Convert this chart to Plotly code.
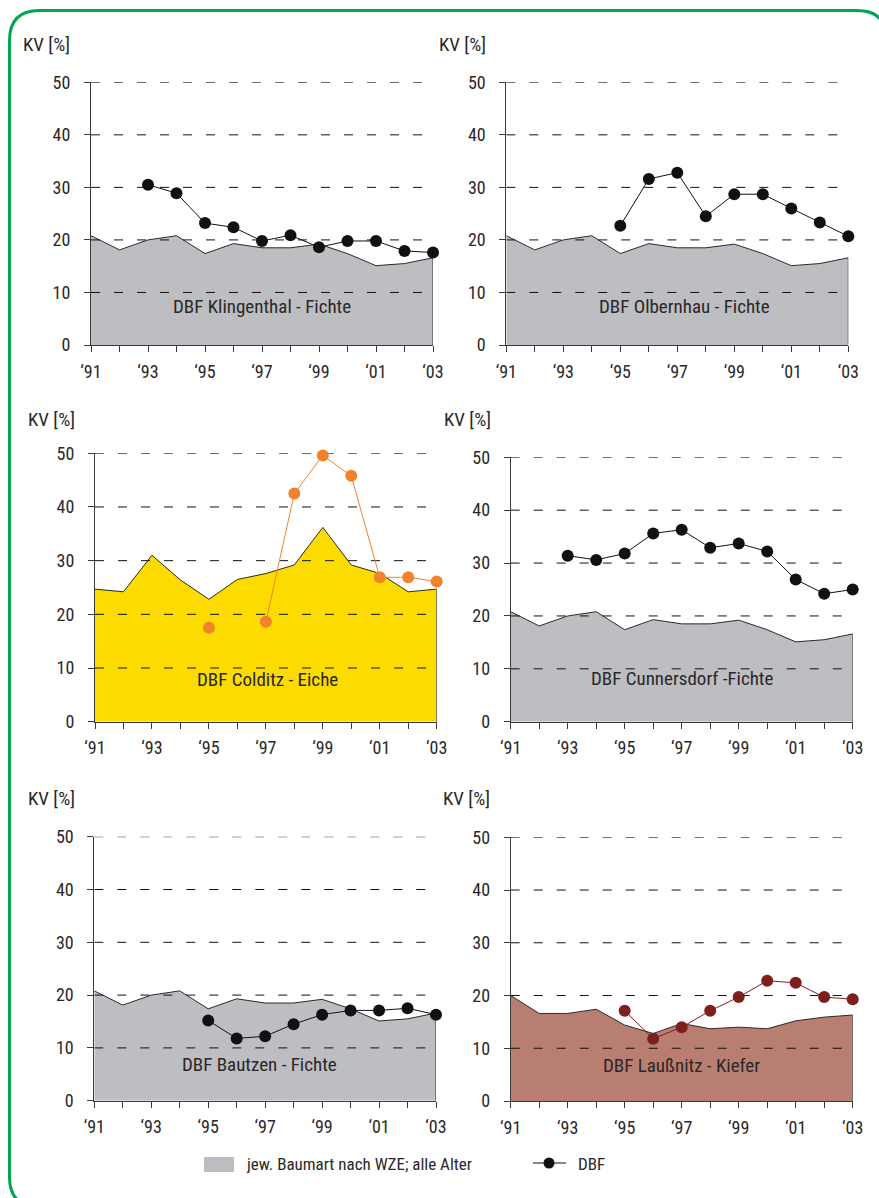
import plotly.graph_objects as go

# ---------------- data ----------------
years = list(range(1991, 2004))
year_labels = ["‘91", "", "‘93", "", "‘95", "", "‘97", "", "‘99", "", "‘01", "", "‘03"]
y_ticks = [0, 10, 20, 30, 40, 50]
grid_levels = [10, 20, 30, 40, 50]

# WZE reference (jew. Baumart nach WZE; alle Alter)
wze_fichte = [20.8, 18.1, 20.0, 20.8, 17.4, 19.3, 18.5, 18.5, 19.2, 17.4, 15.1, 15.5, 16.6]
wze_eiche = [24.7, 24.2, 31.0, 26.4, 22.8, 26.5, 27.6, 29.2, 36.2, 29.2, 27.6, 24.2, 24.7]
wze_kiefer = [20.0, 16.6, 16.6, 17.4, 14.4, 12.8, 14.7, 13.7, 14.0, 13.7, 15.2, 15.9, 16.3]

# DBF series
dbf_klingenthal = [None, None, 30.5, 28.9, 23.2, 22.4, 19.8, 20.9, 18.6, 19.8, 19.8, 17.9, 17.6]
dbf_olbernhau = [None, None, None, None, 22.7, 31.6, 32.8, 24.5, 28.7, 28.7, 26.0, 23.3, 20.7]
dbf_colditz = [None, None, None, None, 17.5, None, 18.6, 42.5, 49.6, 45.8, 26.9, 26.9, 26.1]
dbf_cunnersdorf = [None, None, 31.4, 30.6, 31.8, 35.6, 36.3, 32.9, 33.7, 32.2, 26.9, 24.2, 25.0]
dbf_bautzen = [None, None, None, None, 15.2, 11.8, 12.2, 14.5, 16.3, 17.1, 17.1, 17.5, 16.3]
dbf_laussnitz = [None, None, None, None, 17.1, 11.8, 14.0, 17.1, 19.7, 22.8, 22.4, 19.7, 19.3]

panel_titles = ["DBF Klingenthal - Fichte", "DBF Olbernhau - Fichte", "DBF Colditz - Eiche",
                "DBF Cunnersdorf -Fichte", "DBF Bautzen - Fichte", "DBF Laußnitz - Kiefer"]
legend_labels = ["jew. Baumart nach WZE; alle Alter", "DBF"]
y_title = "KV [%]"

# ---------------- styling / layout ----------------
W, H = 879, 1198
FONT = "Roboto Condensed, Liberation Sans Narrow, sans-serif"
TXT = "#2b2728"
AX = "#3a3a3a"
GRAY = "#bdbec2"
YELLOW = "#fcdc00"
ORANGE = "#f2822c"
BROWN_AREA = "#b97e72"
BROWN_DBF = "#7d1f1c"
GREEN = "#00a651"


def pxx(x):
    return x / W


def pxy(y):
    return 1 - y / H


# (area, area color, dbf, dbf color, x px range, y px range (top=50, bottom=0), label pos, KV label pos)
panels = [
    (wze_fichte, GRAY, dbf_klingenthal, "#111111", (91, 433), (82.3, 345), (1997.0, 7.4), (46, 45)),
    (wze_fichte, GRAY, dbf_olbernhau, "#111111", (506.3, 848.3), (82.3, 345), (1997.25, 7.4), (462, 45)),
    (wze_eiche, YELLOW, dbf_colditz, ORANGE, (95, 436.7), (453.3, 721.7), (1997.05, 7.9), (51, 420)),
    (wze_fichte, GRAY, dbf_cunnersdorf, "#111111", (510.7, 852.7), (457.3, 721.7), (1997.0, 8.1), (467, 420)),
    (wze_fichte, GRAY, dbf_bautzen, "#111111", (94.3, 436), (836.7, 1100.7), (1996.8, 6.8), (51, 798)),
    (wze_kiefer, BROWN_AREA, dbf_laussnitz, BROWN_DBF, (510.7, 852.7), (837.3, 1101), (1997.0, 6.8), (466, 798)),
]

fig = go.Figure()
layout_axes = {}
annotations = []
shapes = []

for i, (area, acol, dbf, dcol, xr, yr, lab, kv) in enumerate(panels):
    n = i + 1
    xa = "x" if n == 1 else f"x{n}"
    ya = "y" if n == 1 else f"y{n}"
    xkey = "xaxis" if n == 1 else f"xaxis{n}"
    ykey = "yaxis" if n == 1 else f"yaxis{n}"

    # area (with closing right edge)
    fig.add_trace(go.Scatter(
        x=years + [years[-1]], y=area + [0], mode="lines", fill="tozeroy",
        fillcolor=acol, line=dict(color="#2a2a2a", width=1),
        xaxis=xa, yaxis=ya, showlegend=False, hoverinfo="skip"))

    # dashed grid lines drawn above the area
    for g in grid_levels:
        fig.add_trace(go.Scatter(
            x=[years[0], years[-1]], y=[g, g], mode="lines",
            line=dict(color="#111111", width=1, dash="9px,14px"),
            xaxis=xa, yaxis=ya, showlegend=False, hoverinfo="skip"))

    # DBF series
    fig.add_trace(go.Scatter(
        x=years, y=dbf, mode="lines+markers", connectgaps=False,
        line=dict(color=dcol, width=1),
        marker=dict(color=dcol, size=12),
        xaxis=xa, yaxis=ya, showlegend=False, cliponaxis=False))

    layout_axes[xkey] = dict(
        domain=[pxx(xr[0]), pxx(xr[1])], range=[years[0], years[-1]], anchor=ya,
        tickmode="array", tickvals=years, ticktext=year_labels, automargin=False,
        ticks="outside", ticklen=6, tickcolor=AX, showline=True, linecolor=AX, linewidth=1,
        showgrid=False, zeroline=False, fixedrange=True, ticklabelstandoff=4,
        tickfont=dict(family=FONT, size=18, color=TXT))
    layout_axes[ykey] = dict(
        domain=[pxy(yr[1]), pxy(yr[0])], range=[0, 50], anchor=xa, automargin=False,
        tickmode="array", tickvals=y_ticks,
        ticks="outside", ticklen=6, tickcolor=AX, showline=True, linecolor=AX, linewidth=1,
        showgrid=False, zeroline=False, fixedrange=True, ticklabelstandoff=10,
        tickfont=dict(family=FONT, size=18, color=TXT))

    annotations.append(dict(
        x=lab[0], y=lab[1], xref=xa, yref=ya, text=panel_titles[i], showarrow=False,
        font=dict(family=FONT, size=19, color=TXT), xanchor="center", yanchor="middle"))
    annotations.append(dict(
        x=pxx(kv[0]), y=pxy(kv[1]), xref="paper", yref="paper", text=y_title, showarrow=False,
        font=dict(family=FONT, size=19, color=TXT), xanchor="center", yanchor="middle"))

# legend (drawn manually)
shapes.append(dict(type="rect", xref="paper", yref="paper",
                   x0=pxx(204), x1=pxx(234), y0=pxy(1172), y1=pxy(1157),
                   fillcolor=GRAY, line=dict(width=0)))
annotations.append(dict(x=pxx(244), y=pxy(1164), xref="paper", yref="paper", text=legend_labels[0],
                        showarrow=False, xanchor="left", yanchor="middle",
                        font=dict(family=FONT, size=17, color=TXT)))
shapes.append(dict(type="line", xref="paper", yref="paper",
                   x0=pxx(533), x1=pxx(566), y0=pxy(1163), y1=pxy(1163),
                   line=dict(color="#111111", width=1)))
shapes.append(dict(type="circle", xref="paper", yref="paper",
                   x0=pxx(543.5), x1=pxx(554.5), y0=pxy(1168.5), y1=pxy(1157.5),
                   fillcolor="#111111", line=dict(color="#111111", width=0)))
annotations.append(dict(x=pxx(576), y=pxy(1164), xref="paper", yref="paper", text=legend_labels[1],
                        showarrow=False, xanchor="left", yanchor="middle",
                        font=dict(family=FONT, size=17, color=TXT)))

# green rounded frame
x0, y0, x1, y1, r = 9.5, 10.5, 887, 1207, 30
path = (f"M {pxx(x0 + r)},{pxy(y0)} L {pxx(x1 - r)},{pxy(y0)} "
        f"Q {pxx(x1)},{pxy(y0)} {pxx(x1)},{pxy(y0 + r)} "
        f"L {pxx(x1)},{pxy(y1 - r)} Q {pxx(x1)},{pxy(y1)} {pxx(x1 - r)},{pxy(y1)} "
        f"L {pxx(x0 + r)},{pxy(y1)} Q {pxx(x0)},{pxy(y1)} {pxx(x0)},{pxy(y1 - r)} "
        f"L {pxx(x0)},{pxy(y0 + r)} Q {pxx(x0)},{pxy(y0)} {pxx(x0 + r)},{pxy(y0)} Z")
shapes.append(dict(type="path", xref="paper", yref="paper", path=path,
                   line=dict(color=GREEN, width=3), fillcolor="rgba(0,0,0,0)", layer="below"))

fig.update_layout(
    width=W, height=H, margin=dict(l=0, r=0, t=0, b=0, pad=0), template="none",
    paper_bgcolor="white", plot_bgcolor="rgba(0,0,0,0)",
    showlegend=False, annotations=annotations, shapes=shapes,
    font=dict(family=FONT, color=TXT),
    **layout_axes)

fig.write_html("out.html", config={"displayModeBar": False},
               post_script="document.body.style.margin='0';document.body.style.overflow='hidden';")
